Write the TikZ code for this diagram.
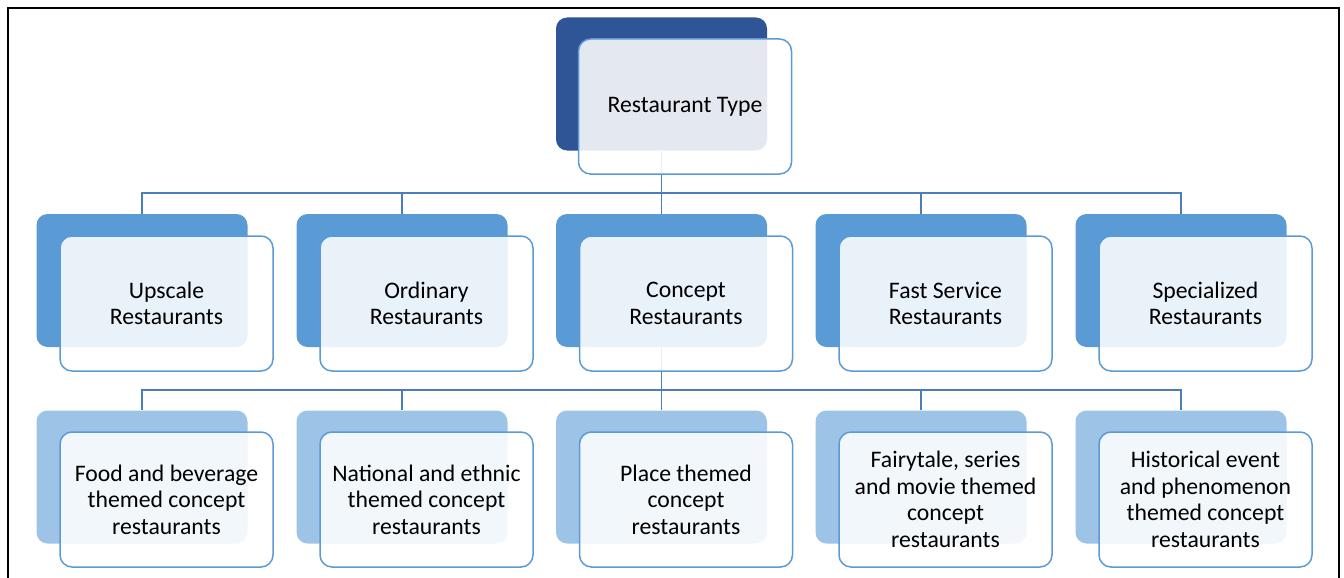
\documentclass[tikz,border=0pt]{standalone}
\usepackage{fontspec}
\setmainfont{Carlito}
\begin{document}
\begin{tikzpicture}[x=1pt,y=-1pt,
  backbox/.style={rounded corners=11pt, minimum width=211pt, minimum height=133pt, inner sep=0pt, draw=none},
  frontbox/.style={rounded corners=12pt, minimum width=213pt, minimum height=135pt, inner sep=0pt,
     draw=frontline, line width=1.5pt, fill=white, fill opacity=0.87, text opacity=1,
     align=center, font=\fontsize{23.7}{26.5}\selectfont},
  conn/.style={draw=connblue, line width=1.6pt},
]
\definecolor{darkblue}{HTML}{2F5597}
\definecolor{medblue}{HTML}{5B9BD5}
\definecolor{lightblue}{HTML}{9DC3E6}
\definecolor{frontline}{HTML}{5B9BD5}
\definecolor{connblue}{HTML}{4A7EBB}
\useasboundingbox (0,0) rectangle (1344,578);
\clip (0,0) rectangle (1344,578);
\draw[line width=2pt, black] (8,600) -- (8,8) -- (1339,8) -- (1339,600);
% back boxes
\node[backbox, fill=darkblue] (tb) at (661.5,84) {};
\foreach \i/\x in {1/142,2/402,3/661.5,4/921,5/1181}{
  \node[backbox, fill=medblue] (b\i) at (\x,280.5) {};
  \node[backbox, fill=lightblue] (c\i) at (\x,477) {};
}
% connectors
\foreach \i in {1,...,5}{
  \draw[conn] (tb.south) -- ++(0,42) -| (b\i.north);
  \draw[conn] (b3.south) -- ++(0,43) -| (c\i.north);
}
% front boxes
\node[frontbox] (t) at (685,106.5) {Restaurant Type};
\node[frontbox] (f1) at (166.5,303.5) {Upscale\\Restaurants};
\node[frontbox] (f2) at (426.5,303.5) {Ordinary\\Restaurants};
\node[frontbox] (f3) at (686,303.5) {Concept\\Restaurants};
\node[frontbox] (f4) at (945.5,303.5) {Fast Service\\Restaurants};
\node[frontbox] (f5) at (1205.5,303.5) {Specialized\\Restaurants};
\node[frontbox] (g1) at (166.5,499.5) {Food and beverage\\themed concept\\restaurants};
\node[frontbox] (g2) at (426.5,499.5) {National and ethnic\\themed concept\\restaurants};
\node[frontbox] (g3) at (686,499.5) {Place themed\\concept\\restaurants};
\node[frontbox] (g4) at (945.5,499.5) {Fairytale, series\\and movie themed\\concept\\restaurants};
\node[frontbox] (g5) at (1205.5,499.5) {Historical event\\and phenomenon\\themed concept\\restaurants};
\end{tikzpicture}
\end{document}
